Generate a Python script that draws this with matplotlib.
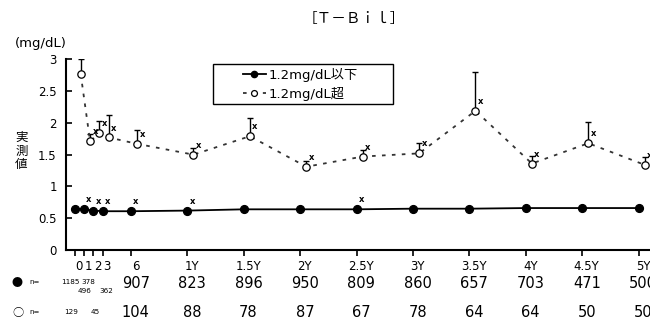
import matplotlib
matplotlib.use("Agg")
import matplotlib.pyplot as plt
import matplotlib.transforms as mtransforms
from matplotlib.patches import Rectangle

plt.rcParams['font.family'] = ['DejaVu Sans', 'Noto Sans CJK JP']

# months after start, tick labels
months = [0, 1, 2, 3, 6, 12, 18, 24, 30, 36, 42, 48, 54, 60]
tick_labels = ["0", "1", "2", "3", "6", "1Y", "1.5Y", "2Y", "2.5Y", "3Y", "3.5Y", "4Y", "4.5Y", "5Y"]

# 1.2mg/dL or below (filled)
low_mean = [0.65, 0.64, 0.62, 0.61, 0.61, 0.62, 0.64, 0.64, 0.64, 0.65, 0.65, 0.66, 0.66, 0.66]
# above 1.2mg/dL (open), mean and top of SD bar
high_mean = [2.77, 1.71, 1.84, 1.77, 1.67, 1.50, 1.79, 1.31, 1.47, 1.52, 2.19, 1.36, 1.68, 1.34]
high_upper = [3.01, 1.82, 2.03, 2.13, 1.89, 1.60, 2.07, 1.40, 1.58, 1.68, 2.80, 1.48, 2.02, 1.46]

# months with significance mark
sig_low = [1, 2, 3, 6, 12, 30]
sig_high = [1, 2, 3, 6, 12, 18, 24, 30, 36, 42, 48, 54, 60]

# numbers of patients
n_low = ["1185", "496", "378", "362", "907", "823", "896", "950", "809", "860", "657", "703", "471", "500"]
n_high = ["129", "", "45", "", "104", "88", "78", "87", "67", "78", "64", "64", "50", "50"]

OFF = 0.65  # open series drawn a little to the right
narrow = ['Liberation Sans Narrow', 'DejaVu Sans']

fig = plt.figure(figsize=(6.5, 3.22), dpi=100)
ax = fig.add_axes([0.1023, 0.2236, 0.9018, 0.5922])

hx = [m + OFF for m in months]
yerr = [[0] * len(high_mean), [u - m for u, m in zip(high_upper, high_mean)]]
ax.errorbar(hx, high_mean, yerr=yerr, fmt='none', ecolor='black', elinewidth=1.0,
            capsize=2, capthick=1.0, zorder=2)
l2, = ax.plot(hx, high_mean, color='#333333', lw=1.3, dashes=(2, 3.5),
              marker='o', ms=5.3, mfc='white', mec='black', mew=0.9, zorder=3,
              label='1.2mg/dL超')
l1, = ax.plot(months, low_mean, color='black', lw=1.3, marker='o', ms=5.6,
              mfc='black', mec='black', zorder=3, label='1.2mg/dL以下')

for m, v in zip(months, low_mean):
    if m in sig_low:
        ax.annotate('x', (m, v), xytext=(3.4, 6.8), textcoords='offset points',
                    ha='center', va='center', fontsize=6, fontweight='bold')
for m, v in zip(hx, high_mean):
    if round(m - OFF) in sig_high:
        ax.annotate('x', (m, v), xytext=(3.6, 6.8), textcoords='offset points',
                    ha='center', va='center', fontsize=6, fontweight='bold')

ax.set_xlim(-0.86, 61.5)
ax.set_ylim(0, 3)
ax.set_yticks([0, 0.5, 1, 1.5, 2, 2.5, 3])
ax.set_yticklabels(["0", "0.5", "1", "1.5", "2", "2.5", "3"], fontsize=8.5)
ax.set_xticks(months)
ax.set_xticklabels(tick_labels, fontsize=8.5)
ax.tick_params(axis='y', direction='in', length=4.5, width=1.2, pad=7)
ax.tick_params(axis='x', direction='out', length=4.5, width=1.2, pad=2.5)
shift = mtransforms.ScaledTranslation(0.045, 0, fig.dpi_scale_trans)
for lab in ax.get_xticklabels():
    lab.set_transform(lab.get_transform() + shift)
for s in ['top', 'right']:
    ax.spines[s].set_visible(False)
for s in ['left', 'bottom']:
    ax.spines[s].set_linewidth(1.5)
ax.patch.set_alpha(0)

ax.add_patch(Rectangle((0.25, 0.766), 0.307, 0.209, transform=ax.transAxes,
                       facecolor='white', edgecolor='black', lw=1.0, zorder=4))
leg = ax.legend(handles=[l1, l2], loc='upper left', bbox_to_anchor=(0.301, 0.955),
                borderaxespad=0, borderpad=0, frameon=False,
                fontsize=9.5, handlelength=1.75, handletextpad=0.2, markerscale=0.8,
                labelspacing=0.35)
leg.set_zorder(5)

fig.text(0.545, 0.94, '［Ｔ－Ｂｉｌ］', ha='center', va='center', fontsize=10.5,
         family='Noto Sans CJK JP')
fig.text(0.023, 0.866, '(mg/dL)', ha='left', va='center', fontsize=9.5)
fig.text(0.033, 0.53, '実\n測\n値', ha='center', va='center', fontsize=9,
         linespacing=1.05, family='Noto Sans CJK JP')

# n rows
fig.text(0.027, 0.121, '●', ha='center', va='center', fontsize=8, family='Noto Sans CJK JP')
fig.text(0.045, 0.124, 'n=', ha='left', va='center', fontsize=5, family=narrow)
fig.text(0.027, 0.029, '○', ha='center', va='center', fontsize=8, family='Noto Sans CJK JP')
fig.text(0.045, 0.032, 'n=', ha='left', va='center', fontsize=5, family=narrow)

tr = mtransforms.blended_transform_factory(ax.transData, fig.transFigure)
# crowded first months: small staggered numbers
small_pos = {0: (-0.49, 0.123), 1: (1.05, 0.095), 2: (1.43, 0.123), 3: (3.37, 0.095)}
small_pos_h = {0: (-0.33, 0.031), 2: (2.25, 0.031)}
for i, m in enumerate(months):
    if m <= 3:
        x, y = small_pos[m]
        fig.text(x, y, n_low[i], transform=tr, ha='center', va='center', fontsize=5.2,
                 family=narrow)
        if m in small_pos_h and n_high[i]:
            x, y = small_pos_h[m]
            fig.text(x, y, n_high[i], transform=tr, ha='center', va='center', fontsize=5.2,
                     family=narrow)
    else:
        fig.text(m + 0.5, 0.121, n_low[i], transform=tr, ha='center', va='center',
                 fontsize=10.5, family=narrow)
        fig.text(m + 0.5, 0.031, n_high[i], transform=tr, ha='center', va='center',
                 fontsize=10.5, family=narrow)

fig.savefig('out.png', dpi=100)
